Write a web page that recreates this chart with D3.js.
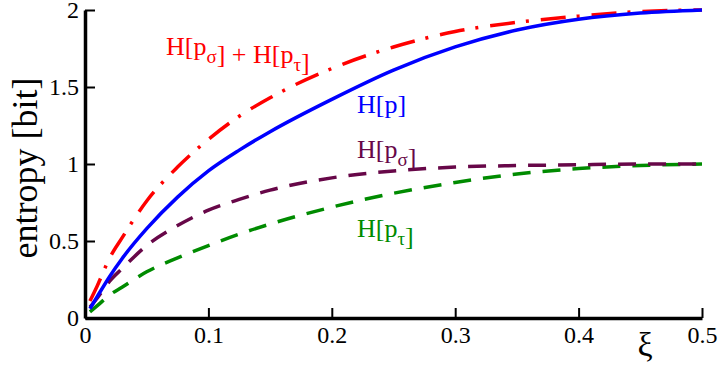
<!DOCTYPE html>
<html lang="en">
<head>
<meta charset="utf-8">
<script src="https://cdn.jsdelivr.net/npm/d3@7"></script>
</head>
<body style="margin:0; background:#fff">
<svg width="718" height="372"></svg>
<script>
// xi values (x axis)
const xi = [0.004, 0.01, 0.02, 0.03, 0.05, 0.075, 0.1, 0.125, 0.15, 0.2, 0.25, 0.3, 0.35, 0.4, 0.45, 0.5]
// H[p], blue solid
const hP = [0.06, 0.14, 0.27, 0.385, 0.58, 0.785, 0.955, 1.09, 1.21, 1.42, 1.61, 1.76, 1.87, 1.94, 1.98, 2.0]
// H[p_sigma] + H[p_tau], red dash-dot
const hSum = [0.11, 0.21, 0.39, 0.52, 0.76, 0.98, 1.16, 1.31, 1.43, 1.62, 1.76, 1.86, 1.92, 1.96, 1.99, 2.0]
// H[p_sigma], maroon dashed
const hSigma = [0.07, 0.13, 0.24, 0.32, 0.47, 0.60, 0.70, 0.77, 0.83, 0.91, 0.955, 0.98, 0.99, 0.995, 1.0, 1.0]
// H[p_tau], green dashed
const hTau = [0.04, 0.08, 0.15, 0.20, 0.30, 0.39, 0.47, 0.545, 0.61, 0.72, 0.81, 0.88, 0.935, 0.97, 0.99, 1.0]

const xMajor = [0, 0.1, 0.2, 0.3, 0.4, 0.5]
const xMinor = [0.05, 0.15, 0.25, 0.35, 0.45]
const yMajor = [0, 0.5, 1, 1.5, 2]
const yMinor = [0.25, 0.75, 1.25, 1.75]

const font = 'Times New Roman'
const svg = d3.select('svg')

const scX = d3.scaleLinear().domain([0, 0.5]).range([85, 702])
const scY = d3.scaleLinear().domain([0, 2]).range([318, 10])

// curves
const series = [
  { vals: hTau, color: '#008b00', dash: '18,12' },
  { vals: hSigma, color: '#670748', dash: '18,12' },
  { vals: hSum, color: '#ff0000', dash: '25,11,3,12' },
  { vals: hP, color: '#0000ff', dash: null }
]

const line = d3.line()
  .x(d => scX(d[0]))
  .y(d => scY(d[1]))
  .curve(d3.curveMonotoneX)

series.forEach(s => {
  svg.append('path')
    .datum(xi.map((x, i) => [x, s.vals[i]]))
    .attr('d', line)
    .attr('fill', 'none')
    .attr('stroke', s.color)
    .attr('stroke-width', 3.5)
    .attr('stroke-dasharray', s.dash)
})

// axes, ticks pointing inward
const gx = svg.append('g').attr('transform', `translate(0, ${scY(0)})`)
gx.call(d3.axisBottom(scX).tickValues(xMinor).tickSize(-5).tickSizeOuter(0).tickFormat(''))
gx.call(d3.axisBottom(scX).tickValues(xMajor).tickSize(-10).tickSizeOuter(0).tickPadding(8)
  .tickFormat(d => d === 0 ? '0' : String(d)))

const gy = svg.append('g').attr('transform', `translate(${scX(0)}, 0)`)
gy.call(d3.axisLeft(scY).tickValues(yMinor).tickSize(-5).tickSizeOuter(0).tickFormat(''))
gy.call(d3.axisLeft(scY).tickValues(yMajor).tickSize(-10).tickSizeOuter(0).tickPadding(6)
  .tickFormat(d => String(d)))

svg.selectAll('g').attr('font-family', font).attr('font-size', null)
svg.selectAll('.domain').attr('stroke', '#000').attr('stroke-width', 3.5)
svg.selectAll('.tick line').attr('stroke', '#000').attr('stroke-width', 2)
svg.selectAll('.tick text')
  .attr('fill', '#000')
  .style('font-family', font)
  .style('font-size', '24px')

// axis titles
svg.append('text')
  .attr('transform', 'translate(37, 168) rotate(-90)')
  .attr('text-anchor', 'middle')
  .style('font-family', font)
  .style('font-size', '36px')
  .text('entropy [bit]')

svg.append('text')
  .attr('x', 645)
  .attr('y', 356)
  .attr('text-anchor', 'middle')
  .style('font-family', font)
  .style('font-size', '34px')
  .text('ξ')

// curve labels
function label (x, y, color, parts) {
  const t = svg.append('text').attr('x', x).attr('y', y).attr('fill', color)
    .style('font-family', font).style('font-size', '26px')
  parts.forEach(p => {
    if (p.sub) {
      t.append('tspan').attr('dy', 8).style('font-size', '19px').text(p.sub)
      t.append('tspan').attr('dy', -8).text('')
    } else {
      t.append('tspan').text(p.t)
    }
  })
}

label(166, 55, '#ff0000', [{ t: 'H[p' }, { sub: 'σ' }, { t: '] + H[p' }, { sub: 'τ' }, { t: ']' }])
label(357, 113, '#0000ff', [{ t: 'H[p]' }])
label(357, 158, '#670748', [{ t: 'H[p' }, { sub: 'σ' }, { t: ']' }])
label(357, 237, '#008b00', [{ t: 'H[p' }, { sub: 'τ' }, { t: ']' }])
</script>
</body>
</html>
